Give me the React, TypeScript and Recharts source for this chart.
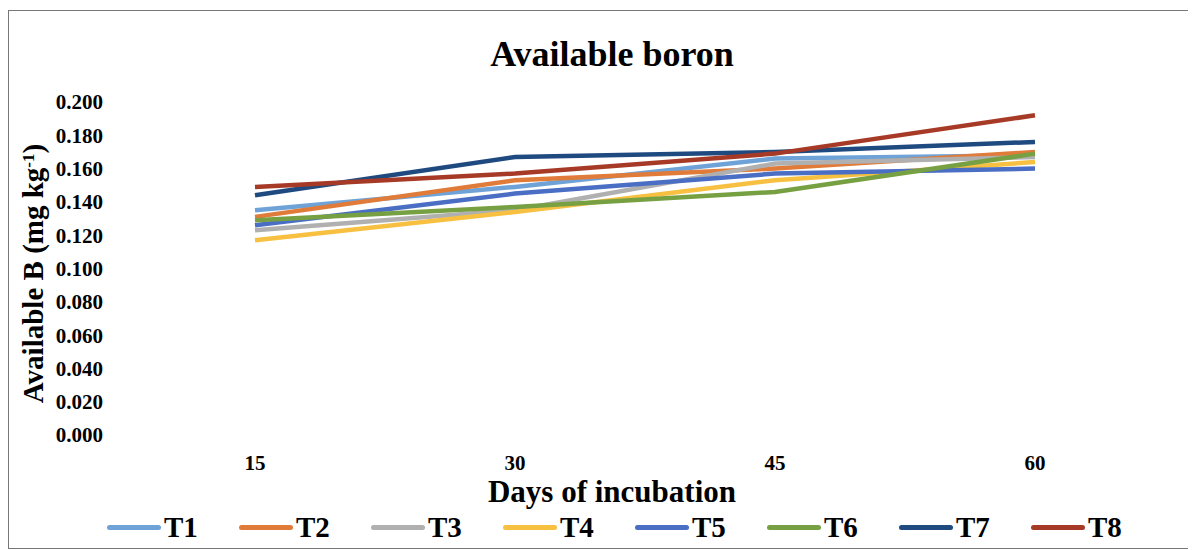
import React from "react";
import { LineChart, Line, XAxis, YAxis, Legend } from "recharts";

const days = ["15", "30", "45", "60"];
const seriesNames = ["T1", "T2", "T3", "T4", "T5", "T6", "T7", "T8"];
const t1 = [0.135, 0.149, 0.166, 0.168];
const t2 = [0.131, 0.153, 0.160, 0.170];
const t3 = [0.123, 0.135, 0.163, 0.167];
const t4 = [0.117, 0.134, 0.153, 0.164];
const t5 = [0.126, 0.145, 0.157, 0.160];
const t6 = [0.129, 0.137, 0.146, 0.169];
const t7 = [0.144, 0.167, 0.170, 0.176];
const t8 = [0.149, 0.157, 0.169, 0.192];
const yTicks = [0, 0.02, 0.04, 0.06, 0.08, 0.1, 0.12, 0.14, 0.16, 0.18, 0.2];
const colors = ["#6fa3d8", "#e07b39", "#b0b0b0", "#f7c040", "#4a6ec4", "#77a043", "#1f4a80", "#a63a26"];

const allSeries = [t1, t2, t3, t4, t5, t6, t7, t8];
const data = days.map((d, i) => {
  const row: Record<string, string | number> = { day: d };
  seriesNames.forEach((n, k) => {
    row[n] = allSeries[k][i];
  });
  return row;
});

const font = "'Liberation Serif', 'Times New Roman', serif";

function LegendContent() {
  return (
    <div
      style={{
        display: "flex",
        justifyContent: "flex-start",
        paddingLeft: 98,
        fontFamily: font,
        fontWeight: "bold",
        fontSize: 29,
        color: "#000",
      }}
    >
      {seriesNames.map((n, i) => (
        <div key={n} style={{ display: "flex", alignItems: "center", width: 132 }}>
          <div style={{ width: 54, height: 5, borderRadius: 3, background: colors[i], marginRight: 3 }} />
          <span>{n}</span>
        </div>
      ))}
    </div>
  );
}

function YLabel(props: any) {
  const { viewBox } = props;
  const cy = viewBox.y + viewBox.height / 2 + 5;
  const cx = 34;
  return (
    <text
      x={cx}
      y={cy}
      transform={`rotate(-90, ${cx}, ${cy})`}
      textAnchor="middle"
      fontFamily={font}
      fontWeight="bold"
      fontSize={29}
      fill="#000"
    >
      Available B (mg kg
      <tspan baselineShift="super" fontSize={17}>-1</tspan>
      <tspan>)</tspan>
    </text>
  );
}

export default function App() {
  return (
    <div
      style={{
        position: "relative",
        width: 1181,
        height: 537,
        border: "1px solid #777",
        marginTop: 2,
        background: "#fff",
        fontFamily: font,
      }}
    >
      <div
        style={{
          position: "absolute",
          top: 22,
          left: 0,
          width: 1206,
          textAlign: "center",
          fontSize: 36,
          fontWeight: "bold",
        }}
      >
        Available boron
      </div>
      <div
        style={{
          position: "absolute",
          top: 463,
          left: 0,
          width: 1206,
          textAlign: "center",
          fontSize: 31,
          fontWeight: "bold",
        }}
      >
        Days of incubation
      </div>
      <LineChart
        width={1181}
        height={537}
        data={data}
        margin={{ top: 91, right: 25, bottom: 50, left: 0 }}
      >
        <XAxis
          dataKey="day"
          axisLine={false}
          tickLine={false}
          tickSize={0}
          tickMargin={20}
          padding={{ left: 130, right: 130 }}
          tick={{ fill: "#000", fontSize: 21, fontWeight: "bold", fontFamily: font }}
        />
        <YAxis
          domain={[0, 0.2]}
          ticks={yTicks}
          axisLine={false}
          tickLine={false}
          tickSize={0}
          tickMargin={22}
          width={116}
          interval={0}
          tickFormatter={(v: number) => v.toFixed(3)}
          tick={{ fill: "#000", fontSize: 21, fontWeight: "bold", fontFamily: font }}
          label={<YLabel />}
        />
        {seriesNames.map((n, i) => (
          <Line
            key={n}
            type="linear"
            dataKey={n}
            stroke={colors[i]}
            strokeWidth={4.5}
            dot={false}
            isAnimationActive={false}
          />
        ))}
        <Legend
          verticalAlign="bottom"
          align="left"
          content={<LegendContent />}
          wrapperStyle={{ bottom: 4, left: 0, width: 1181 }}
        />
      </LineChart>
    </div>
  );
}
